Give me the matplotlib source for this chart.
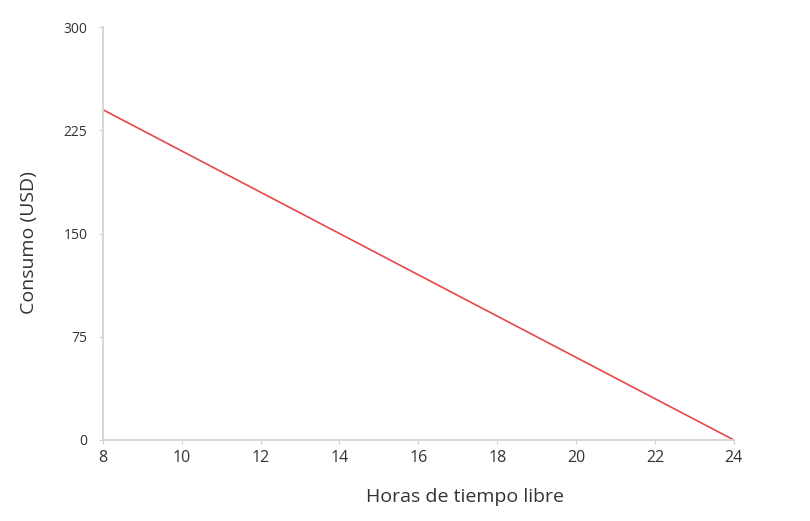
import matplotlib
matplotlib.use("Agg")
import matplotlib.pyplot as plt

hours = [8, 24]
consumption = [240, 0]
xticks = [8, 10, 12, 14, 16, 18, 20, 22, 24]
yticks = [0, 75, 150, 225, 300]

plt.rcParams['font.family'] = ['Open Sans', 'DejaVu Sans']

fig = plt.figure(figsize=(8.1, 5.21), dpi=100)
ax = fig.add_axes([0.127, 0.1555, 0.779, 0.7925])
ax.plot(hours, consumption, color='#e8474a', lw=1.2)
ax.set_xlim(8, 24)
ax.set_ylim(0, 300)
ax.set_xticks(xticks)
ax.set_yticks(yticks)
for s in ['top', 'right']:
    ax.spines[s].set_visible(False)
for s in ['left', 'bottom']:
    ax.spines[s].set_color('#d0d0d0')
    ax.spines[s].set_linewidth(1.2)
ax.tick_params(axis='x', length=3, color='#d0d0d0', labelsize=11.5, labelcolor='#333333', pad=4)
ax.tick_params(axis='y', length=3, color='#d0d0d0', labelsize=10, labelcolor='#333333', pad=8)
ax.set_xlabel('Horas de tiempo libre', fontsize=14, color='#333333')
ax.set_ylabel('Consumo (USD)', fontsize=14, color='#333333')
ax.xaxis.set_label_coords(0.574, -0.116)
ax.yaxis.set_label_coords(-0.103, 0.477)
fig.savefig('out.png', dpi=100)
